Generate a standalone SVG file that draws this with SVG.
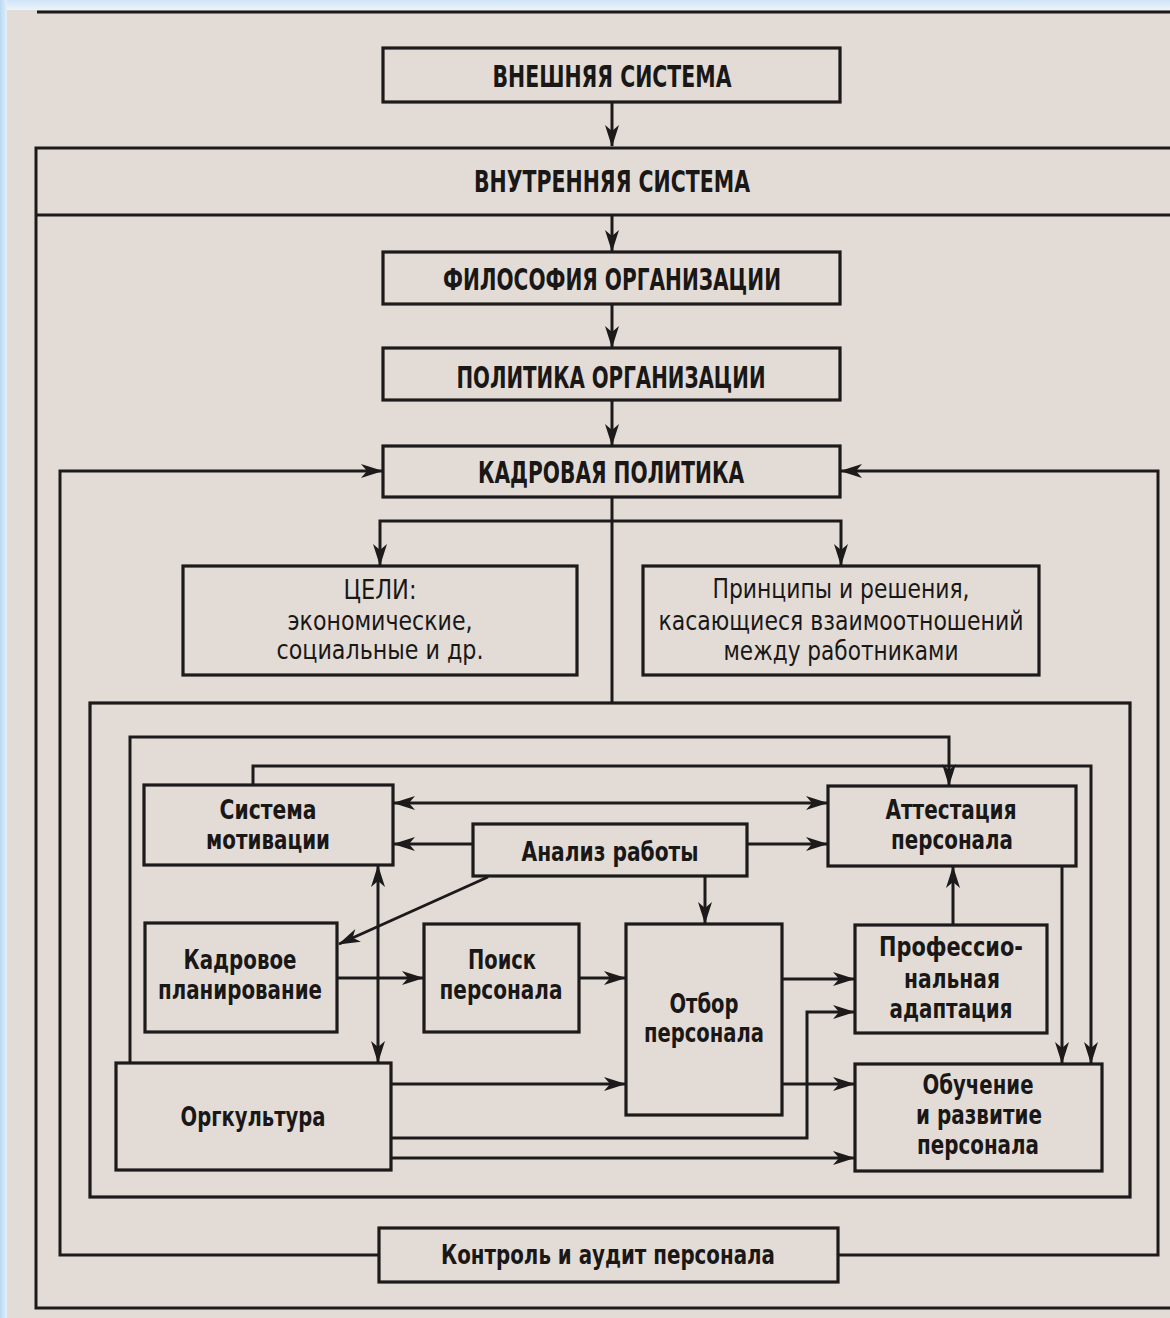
<svg xmlns="http://www.w3.org/2000/svg" width="1170" height="1318" viewBox="0 0 1170 1318">
<style>
.box{fill:none;stroke:#1c1a1a;stroke-width:3.2}
.ln{fill:none;stroke:#1c1a1a;stroke-width:3}
.c{fill:none;stroke:#1c1a1a;stroke-width:3}
.a{marker-end:url(#ah)}
.aa{marker-start:url(#ah);marker-end:url(#ah)}
text{font-family:"Liberation Sans Narrow","DejaVu Sans Condensed","Liberation Sans",Arial,sans-serif;fill:#1a1717;text-anchor:middle}
.h{font-size:31px;font-weight:bold}
.b{font-size:27px;font-weight:bold}
.n{font-size:27px;font-weight:normal}
</style>
<defs>
<linearGradient id="edgeL" x1="0" y1="0" x2="1" y2="0"><stop offset="0" stop-color="#b9d8f2"/><stop offset="1" stop-color="#e4f0fa"/></linearGradient>
<linearGradient id="edgeT" x1="0" y1="0" x2="0" y2="1"><stop offset="0" stop-color="#cfe4f6"/><stop offset="1" stop-color="#eef5fb"/></linearGradient>
<marker id="ah" viewBox="0 0 22 14" refX="21" refY="7" markerWidth="22" markerHeight="14" markerUnits="userSpaceOnUse" orient="auto-start-reverse">
<path d="M0,0 L22,7 L0,14 L6,7 Z" fill="#1c1a1a"/>
</marker>
</defs>

<rect x="0" y="0" width="1170" height="1318" fill="#e3dcd6"/>
<rect x="0" y="0" width="1170" height="10" fill="url(#edgeT)"/>
<rect x="0" y="0" width="7" height="1318" fill="url(#edgeL)"/>

<g id="frame">
<path class="ln" d="M37,12 H1170" stroke-width="3.5"/>
<path class="ln" d="M1170,148 H36 V1308 H1170"/>
<path class="ln" d="M36,215 H1170"/>
</g>

<g id="n-external"><rect class="box" x="383" y="48" width="457" height="54"/><text class="h" x="612" y="87" textLength="239" lengthAdjust="spacingAndGlyphs">ВНЕШНЯЯ СИСТЕМА</text></g>
<g id="n-internal"><text class="h" x="612" y="192" textLength="276" lengthAdjust="spacingAndGlyphs">ВНУТРЕННЯЯ СИСТЕМА</text></g>
<g id="n-philosophy"><rect class="box" x="383" y="252" width="457" height="52"/><text class="h" x="612" y="290" textLength="338" lengthAdjust="spacingAndGlyphs">ФИЛОСОФИЯ ОРГАНИЗАЦИИ</text></g>
<g id="n-orgpolicy"><rect class="box" x="383" y="348" width="457" height="52"/><text class="h" x="611" y="388" textLength="309" lengthAdjust="spacingAndGlyphs">ПОЛИТИКА ОРГАНИЗАЦИИ</text></g>
<g id="n-hrpolicy"><rect class="box" x="383" y="446" width="457" height="51"/><text class="h" x="611" y="483" textLength="266" lengthAdjust="spacingAndGlyphs">КАДРОВАЯ ПОЛИТИКА</text></g>

<g id="n-goals"><rect class="box" x="183" y="566" width="394" height="109"/>
<text class="n" x="380" y="599" textLength="73" lengthAdjust="spacingAndGlyphs">ЦЕЛИ:</text>
<text class="n" x="380" y="630" textLength="185" lengthAdjust="spacingAndGlyphs">экономические,</text>
<text class="n" x="380" y="659" textLength="207" lengthAdjust="spacingAndGlyphs">социальные и др.</text></g>
<g id="n-principles"><rect class="box" x="643" y="566" width="396" height="109"/>
<text class="n" x="841" y="598" textLength="257" lengthAdjust="spacingAndGlyphs">Принципы и решения,</text>
<text class="n" x="841" y="630" textLength="365" lengthAdjust="spacingAndGlyphs">касающиеся взаимоотношений</text>
<text class="n" x="841" y="660" textLength="235" lengthAdjust="spacingAndGlyphs">между работниками</text></g>

<g id="n-functions"><rect class="box" x="90" y="703" width="1040" height="494"/></g>

<g id="n-motivation"><rect class="box" x="144" y="785" width="249" height="80"/>
<text class="b" x="268" y="819" textLength="97" lengthAdjust="spacingAndGlyphs">Система</text>
<text class="b" x="268" y="849" textLength="124" lengthAdjust="spacingAndGlyphs">мотивации</text></g>
<g id="n-analysis"><rect class="box" x="473" y="824" width="274" height="52"/>
<text class="b" x="610" y="861" textLength="177" lengthAdjust="spacingAndGlyphs">Анализ работы</text></g>
<g id="n-attestation"><rect class="box" x="828" y="786" width="248" height="80"/>
<text class="b" x="951" y="819" textLength="131" lengthAdjust="spacingAndGlyphs">Аттестация</text>
<text class="b" x="952" y="849" textLength="122" lengthAdjust="spacingAndGlyphs">персонала</text></g>
<g id="n-planning"><rect class="box" x="145" y="923" width="192" height="109"/>
<text class="b" x="240" y="969" textLength="113" lengthAdjust="spacingAndGlyphs">Кадровое</text>
<text class="b" x="240" y="999" textLength="164" lengthAdjust="spacingAndGlyphs">планирование</text></g>
<g id="n-search"><rect class="box" x="424" y="924" width="155" height="108"/>
<text class="b" x="502" y="969" textLength="68" lengthAdjust="spacingAndGlyphs">Поиск</text>
<text class="b" x="501" y="999" textLength="123" lengthAdjust="spacingAndGlyphs">персонала</text></g>
<g id="n-selection"><rect class="box" x="626" y="924" width="156" height="191"/>
<text class="b" x="704" y="1013" textLength="69" lengthAdjust="spacingAndGlyphs">Отбор</text>
<text class="b" x="704" y="1042" textLength="120" lengthAdjust="spacingAndGlyphs">персонала</text></g>
<g id="n-adaptation"><rect class="box" x="855" y="925" width="192" height="108"/>
<text class="b" x="951" y="956" textLength="144" lengthAdjust="spacingAndGlyphs">Профессио-</text>
<text class="b" x="952" y="988" textLength="96" lengthAdjust="spacingAndGlyphs">нальная</text>
<text class="b" x="951" y="1018" textLength="123" lengthAdjust="spacingAndGlyphs">адаптация</text></g>
<g id="n-culture"><rect class="box" x="116" y="1063" width="275" height="107"/>
<text class="b" x="253" y="1126" textLength="145" lengthAdjust="spacingAndGlyphs">Оргкультура</text></g>
<g id="n-training"><rect class="box" x="855" y="1064" width="247" height="107"/>
<text class="b" x="978" y="1094" textLength="111" lengthAdjust="spacingAndGlyphs">Обучение</text>
<text class="b" x="979" y="1124" textLength="126" lengthAdjust="spacingAndGlyphs">и развитие</text>
<text class="b" x="978" y="1154" textLength="122" lengthAdjust="spacingAndGlyphs">персонала</text></g>
<g id="n-control"><rect class="box" x="379" y="1228" width="459" height="54"/>
<text class="b" x="608" y="1264" textLength="334" lengthAdjust="spacingAndGlyphs">Контроль и аудит персонала</text></g>

<g id="connectors">
<path class="c a" d="M612,102 V146"/>
<path class="c a" d="M612,216 V251"/>
<path class="c a" d="M612,304 V347"/>
<path class="c a" d="M612,400 V445"/>
<path class="c a" d="M379,1255 H60 V471 H382"/>
<path class="c a" d="M838,1255 H1158 V471 H841"/>
<path class="c" d="M612,497 V703"/>
<path class="c a" d="M612,521 H380 V565"/>
<path class="c a" d="M612,521 H841 V565"/>
<path class="c a" d="M130,1063 V737 H949 V785"/>
<path class="c a" d="M253,785 V766 H1091 V1063"/>
<path class="c aa" d="M394,803 H827"/>
<path class="c a" d="M473,844 H394"/>
<path class="c a" d="M747,844 H827"/>
<path class="c a" d="M488,877 L339,944"/>
<path class="c a" d="M705,876 V923"/>
<path class="c aa" d="M378,866 V1062"/>
<path class="c a" d="M337,978 H423"/>
<path class="c a" d="M579,978 H625"/>
<path class="c a" d="M782,979 H854"/>
<path class="c a" d="M953,925 V867"/>
<path class="c a" d="M1062,866 V1063"/>
<path class="c a" d="M391,1084 H625"/>
<path class="c a" d="M782,1084 H854"/>
<path class="c a" d="M391,1138 H807 V1012 H854"/>
<path class="c a" d="M391,1158 H854"/>
</g>
</svg>
